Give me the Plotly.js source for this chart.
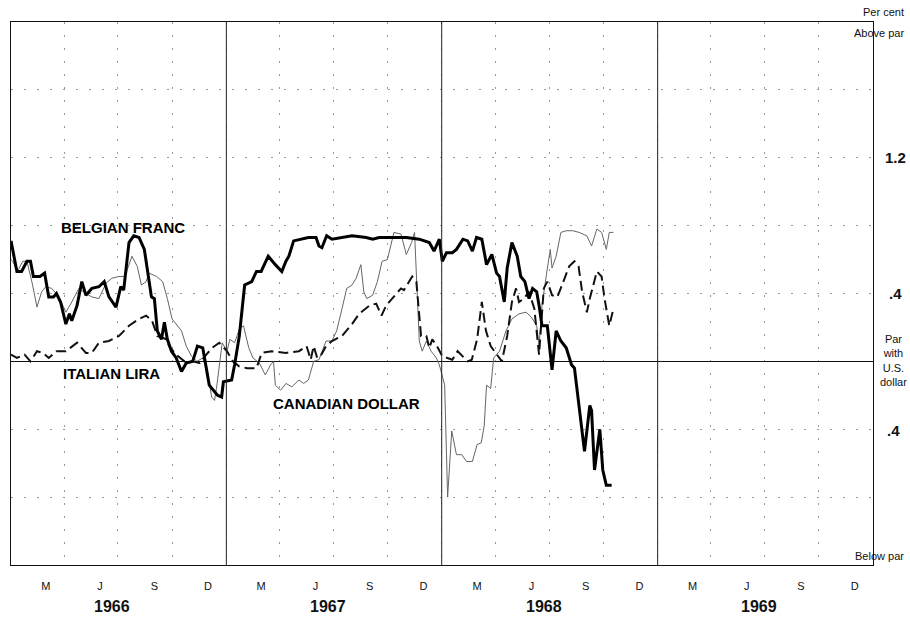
<!DOCTYPE html>
<html>
<head>
<meta charset="utf-8">
<script src="https://cdn.plot.ly/plotly-3.0.1.min.js"></script>
<style>html,body{margin:0;padding:0;background:#fff;}#chart{width:910px;height:617px;}</style>
</head>
<body>
<div id="chart"></div>
<script>
// ---- Data: per cent deviation from par with the U.S. dollar ----
const belgianDates = [
 '1966-01-01','1966-01-04','1966-01-11','1966-01-19','1966-01-28',
 '1966-02-03','1966-02-08','1966-02-19','1966-02-27',
 '1966-03-06','1966-03-14','1966-03-19','1966-03-26',
 '1966-04-04','1966-04-10','1966-04-14','1966-04-23',
 '1966-05-01','1966-05-08','1966-05-18','1966-05-30',
 '1966-06-08','1966-06-16','1966-06-28',
 '1966-07-06','1966-07-11','1966-07-20','1966-07-28',
 '1966-08-06','1966-08-15','1966-08-27',
 '1966-09-01','1966-09-06','1966-09-13','1966-09-18','1966-09-23','1966-09-30',
 '1966-10-08','1966-10-17','1966-10-25',
 '1966-11-05','1966-11-13','1966-11-22',
 '1966-12-03','1966-12-17','1966-12-24','1966-12-27',
 '1967-01-10','1967-01-15','1967-01-23',
 '1967-02-01','1967-02-13','1967-02-21',
 '1967-03-01','1967-03-13','1967-03-25',
 '1967-04-05','1967-04-12','1967-04-17','1967-04-25',
 '1967-05-09','1967-05-20',
 '1967-06-02','1967-06-07','1967-06-12','1967-06-20','1967-06-29',
 '1967-07-16','1967-08-02','1967-08-26','1967-09-06','1967-09-17','1967-10-09',
 '1967-11-02','1967-11-24','1967-12-11','1967-12-19','1967-12-28',
 '1968-01-02','1968-01-09','1968-01-19','1968-01-26',
 '1968-02-06','1968-02-14','1968-02-22','1968-02-29',
 '1968-03-09','1968-03-17','1968-03-26',
 '1968-04-03','1968-04-08','1968-04-16','1968-04-21','1968-04-29',
 '1968-05-08','1968-05-14','1968-05-21','1968-05-28',
 '1968-06-03','1968-06-10','1968-06-14','1968-06-19','1968-06-28',
 '1968-07-06','1968-07-13','1968-07-21','1968-07-30',
 '1968-08-08','1968-08-13','1968-08-21','1968-08-30',
 '1968-09-08','1968-09-11','1968-09-16','1968-09-25','1968-09-30',
 '1968-10-06','1968-10-15'];
const belgianValues = [
 0.71,0.66,0.53,0.53,0.59,
 0.59,0.50,0.50,0.52,
 0.38,0.38,0.40,0.35,
 0.22,0.28,0.24,0.33,
 0.47,0.39,0.43,0.44,
 0.47,0.38,0.32,
 0.44,0.42,0.70,0.74,
 0.73,0.66,0.38,
 0.37,0.18,0.13,0.23,0.13,0.06,
 0.02,-0.06,-0.01,
 0.00,0.09,0.08,
 -0.14,-0.20,-0.21,-0.12,
 -0.11,-0.02,0.15,
 0.45,0.47,0.53,
 0.53,0.62,0.57,
 0.53,0.59,0.62,0.71,
 0.72,0.73,
 0.73,0.68,0.67,0.74,0.72,
 0.73,0.74,0.73,0.72,0.73,0.73,
 0.73,0.72,0.70,0.65,0.72,
 0.59,0.64,0.64,0.66,
 0.72,0.71,0.65,0.73,
 0.72,0.57,0.63,
 0.52,0.50,0.35,0.55,0.70,
 0.62,0.50,0.47,0.37,
 0.43,0.41,0.33,0.21,0.21,
 -0.05,0.18,0.12,0.08,
 -0.02,-0.04,-0.26,-0.53,
 -0.26,-0.29,-0.64,-0.40,-0.64,
 -0.73,-0.73];

const liraDates = [
 '1966-01-01','1966-01-11','1966-01-24','1966-02-03','1966-02-14','1966-02-24',
 '1966-03-06','1966-03-19','1966-04-04','1966-04-23','1966-05-08','1966-05-18','1966-05-30',
 '1966-06-16','1966-07-03','1966-07-20','1966-08-06','1966-08-18','1966-08-28',
 '1966-09-06','1966-09-22','1966-09-26','1966-10-08','1966-10-22',
 '1966-11-05','1966-11-17','1966-11-28','1966-12-08','1966-12-20',
 '1967-01-02','1967-01-12','1967-01-23','1967-02-05','1967-02-21',
 '1967-03-02','1967-03-19','1967-04-12','1967-05-04','1967-05-17','1967-05-24','1967-05-29',
 '1967-06-04','1967-06-11','1967-06-19','1967-06-29','1967-07-16','1967-08-02','1967-08-14',
 '1967-09-01','1967-09-12','1967-09-21','1967-09-29','1967-10-09','1967-10-24','1967-10-29',
 '1967-11-12','1967-11-19','1967-11-27','1967-12-06','1967-12-11','1967-12-16','1967-12-24',
 '1968-01-02','1968-01-09','1968-01-19','1968-01-28','1968-02-06','1968-02-14','1968-02-21',
 '1968-03-01','1968-03-09','1968-03-16','1968-03-24','1968-04-04','1968-04-12','1968-04-21','1968-04-29',
 '1968-05-06','1968-05-11','1968-05-19','1968-05-28','1968-06-06','1968-06-14','1968-06-22','1968-06-28',
 '1968-07-06','1968-07-15','1968-07-23','1968-08-04','1968-08-13','1968-08-20','1968-08-26',
 '1968-09-03','1968-09-08','1968-09-20','1968-09-28','1968-10-03','1968-10-11','1968-10-18'];
const liraValues = [
 0.04,0.02,0.04,0.00,0.06,0.05,
 0.02,0.06,0.06,0.11,0.05,0.05,0.11,
 0.12,0.15,0.21,0.25,0.27,0.24,
 0.15,0.13,0.09,0.04,0.00,
 0.00,-0.01,0.04,0.08,0.11,
 0.06,0.00,-0.03,-0.04,-0.04,
 0.05,0.06,0.05,0.06,0.09,0.01,0.09,
 0.02,0.04,0.09,0.12,0.15,0.22,0.28,
 0.33,0.34,0.27,0.33,0.37,0.43,0.42,
 0.50,0.47,0.15,0.15,0.08,0.13,0.09,
 0.03,0.02,0.01,0.06,0.03,0.00,0.01,
 0.13,0.35,0.18,0.09,0.04,0.00,0.15,0.35,
 0.43,0.35,0.37,0.41,0.31,0.04,0.43,0.47,
 0.39,0.38,0.45,0.56,0.59,0.56,0.41,
 0.29,0.37,0.53,0.50,0.37,0.21,0.31];

const canadaDates = [
 '1966-01-01','1966-01-04','1966-01-12','1966-01-21','1966-01-28',
 '1966-02-06','1966-02-14','1966-02-22','1966-03-01','1966-03-11','1966-03-23',
 '1966-04-04','1966-04-14','1966-04-26','1966-05-08','1966-05-18','1966-05-30',
 '1966-06-11','1966-06-21','1966-07-03','1966-07-11','1966-07-16','1966-07-25',
 '1966-08-03','1966-08-10','1966-08-18','1966-08-23','1966-09-05','1966-09-15','1966-09-23',
 '1966-10-01','1966-10-10','1966-10-17','1966-10-25','1966-11-03','1966-11-12','1966-11-22','1966-11-30',
 '1966-12-07','1966-12-12','1966-12-16','1966-12-25',
 '1967-01-02','1967-01-07','1967-01-15','1967-01-23','1967-01-30',
 '1967-02-08','1967-02-15','1967-02-26','1967-03-08','1967-03-17','1967-03-22','1967-03-25',
 '1967-04-03','1967-04-12','1967-04-22','1967-05-04','1967-05-12','1967-05-20','1967-05-29',
 '1967-06-07','1967-06-19','1967-06-29','1967-07-07','1967-07-16','1967-07-24',
 '1967-08-02','1967-08-09','1967-08-17','1967-08-22','1967-08-27','1967-09-06','1967-09-14','1967-09-22',
 '1967-10-01','1967-10-07','1967-10-12','1967-10-24','1967-11-02','1967-11-11','1967-11-16','1967-11-24','1967-11-29',
 '1967-12-06','1967-12-14','1967-12-23','1967-12-28',
 '1968-01-06','1968-01-11','1968-01-18','1968-01-26','1968-02-04','1968-02-12','1968-02-22',
 '1968-03-01','1968-03-08','1968-03-13','1968-03-17','1968-03-24','1968-03-29',
 '1968-04-08','1968-04-19','1968-04-29','1968-05-11','1968-05-23','1968-06-01','1968-06-10','1968-06-14',
 '1968-06-19','1968-06-26','1968-07-03','1968-07-06','1968-07-13','1968-07-21','1968-07-30',
 '1968-08-10','1968-08-21','1968-09-03','1968-09-11','1968-09-20','1968-09-28',
 '1968-10-06','1968-10-11','1968-10-18'];
const canadaValues = [
 0.60,0.59,0.53,0.59,0.59,
 0.46,0.32,0.41,0.44,0.43,0.38,
 0.29,0.35,0.43,0.40,0.38,0.37,
 0.46,0.49,0.50,0.50,0.53,0.62,
 0.56,0.45,0.47,0.52,0.50,0.47,0.37,
 0.25,0.21,0.18,0.09,0.03,0.00,0.02,-0.06,
 -0.21,-0.23,-0.14,0.11,
 0.06,0.13,0.11,0.19,0.21,
 0.08,0.02,-0.01,-0.08,-0.02,0.00,-0.14,
 -0.17,-0.13,-0.15,-0.11,-0.13,-0.11,0.00,
 0.01,0.12,0.12,0.18,0.31,0.43,
 0.45,0.49,0.57,0.41,0.37,0.39,0.47,0.59,
 0.60,0.68,0.76,0.75,0.63,0.70,0.76,0.12,0.06,
 0.12,0.06,0.02,-0.02,
 -0.14,-0.80,-0.41,-0.55,-0.55,-0.59,-0.59,
 -0.49,-0.48,-0.38,-0.14,-0.16,0.02,
 0.06,0.18,0.25,0.28,0.29,0.26,0.21,0.09,
 0.33,0.50,0.66,0.55,0.62,0.76,0.77,
 0.77,0.76,0.74,0.68,0.78,0.76,
 0.66,0.76,0.76];

// Axis labels
const monthTickDates = ['1966-03-01','1966-06-01','1966-09-01','1966-12-01',
 '1967-03-01','1967-06-01','1967-09-01','1967-12-01',
 '1968-03-01','1968-06-01','1968-09-01','1968-12-01',
 '1969-03-01','1969-06-01','1969-09-01','1969-12-01'];
const monthTickLabels = ['M','J','S','D','M','J','S','D','M','J','S','D','M','J','S','D'];
const yearLabels = ['1966','1967','1968','1969'];
const yearLabelDates = ['1966-06-22','1967-06-22','1968-06-22','1969-06-22'];
const yearDividers = ['1967-01-01','1968-01-01','1969-01-01'];

const FONT = 'Liberation Sans, Arial, Helvetica, sans-serif';

const traces = [
 {x: canadaDates, y: canadaValues, mode: 'lines', name: 'Canadian dollar',
  line: {color: '#666', width: 1}, hoverinfo: 'skip'},
 {x: liraDates, y: liraValues, mode: 'lines', name: 'Italian lira',
  line: {color: '#111', width: 2, dash: '10px,5px'}, hoverinfo: 'skip'},
 {x: belgianDates, y: belgianValues, mode: 'lines', name: 'Belgian franc',
  line: {color: '#000', width: 3}, hoverinfo: 'skip'}
];

const shapes = yearDividers.map(d => ({type: 'line', xref: 'x', yref: 'paper', x0: d, x1: d, y0: 0, y1: 1,
  line: {color: '#222', width: 1}}));

const annotations = [];
yearLabels.forEach((t, i) => annotations.push({text: '<b>' + t + '</b>', x: yearLabelDates[i], xref: 'x',
  y: 0, yref: 'paper', yanchor: 'middle', yshift: -41, showarrow: false, font: {family: FONT, size: 16, color: '#111'}}));
const rightLabels = [
 {text: 'Per cent', y: 1, yref: 'paper', yshift: 10, xanchor: 'right', xshift: 33, size: 11, bold: false},
 {text: 'Above par', y: 1, yref: 'paper', yshift: -11, xanchor: 'right', xshift: 33, size: 11, bold: false},
 {text: '1.2', y: 1.2, yref: 'y', yshift: 0, xanchor: 'center', xshift: 22, size: 15, bold: true},
 {text: '.4', y: 0.4, yref: 'y', yshift: 0, xanchor: 'center', xshift: 22, size: 15, bold: true},
 {text: 'Par<br>with<br>U.S.<br>dollar', y: 0, yref: 'y', yshift: 1, xanchor: 'center', xshift: 20, size: 11, bold: false},
 {text: '.4', y: -0.4, yref: 'y', yshift: -1, xanchor: 'center', xshift: 20, size: 15, bold: true},
 {text: 'Below par', y: 0, yref: 'paper', yshift: 9, xanchor: 'right', xshift: 33, size: 11, bold: false}
];
rightLabels.forEach(r => annotations.push({text: r.bold ? '<b>' + r.text + '</b>' : r.text,
  x: 1, xref: 'paper', xanchor: r.xanchor, xshift: r.xshift, y: r.y, yref: r.yref, yanchor: 'middle', yshift: r.yshift,
  showarrow: false, align: 'center', font: {family: FONT, size: r.size, color: '#111'}}));

const seriesLabels = [
 {text: 'BELGIAN FRANC', x: '1966-07-10', y: 0.79},
 {text: 'ITALIAN LIRA', x: '1966-06-20', y: -0.07},
 {text: 'CANADIAN DOLLAR', x: '1967-07-24', y: -0.25}
];
seriesLabels.forEach(s => annotations.push({text: '<b>' + s.text + '</b>', x: s.x, y: s.y, xref: 'x', yref: 'y',
  showarrow: false, font: {family: FONT, size: 15, color: '#000'}}));

const layout = {
 width: 910, height: 617,
 margin: {l: 11, r: 37, t: 22, b: 52, pad: 0},
 paper_bgcolor: '#fff', plot_bgcolor: '#fff',
 showlegend: false,
 font: {family: FONT, color: '#111'},
 xaxis: {
  type: 'date', range: ['1966-01-01', '1970-01-01'],
  tickmode: 'array', tickvals: monthTickDates, ticktext: monthTickLabels,
  ticks: '', showgrid: false, zeroline: false,
  showline: true, mirror: true, linecolor: '#111', linewidth: 1,
  tickfont: {family: FONT, size: 11, color: '#111'}, ticklabelstandoff: 11,
  minor: {tickmode: 'linear', tick0: '1966-01-01', dtick: 'M3', showgrid: true,
   gridcolor: '#9a9a9a', gridwidth: 1, griddash: '2px,11px', ticks: ''}
 },
 yaxis: {
  range: [-1.2, 2.0], tickmode: 'linear', tick0: 0, dtick: 0.4,
  showticklabels: false, ticks: '',
  showgrid: true, gridcolor: '#9a9a9a', gridwidth: 1, griddash: '2px,11px',
  zeroline: true, zerolinecolor: '#111', zerolinewidth: 1.2,
  showline: true, mirror: true, linecolor: '#111', linewidth: 1
 },
 shapes: shapes,
 annotations: annotations
};

Plotly.newPlot('chart', traces, layout, {displayModeBar: false, staticPlot: true});
</script>
</body>
</html>
